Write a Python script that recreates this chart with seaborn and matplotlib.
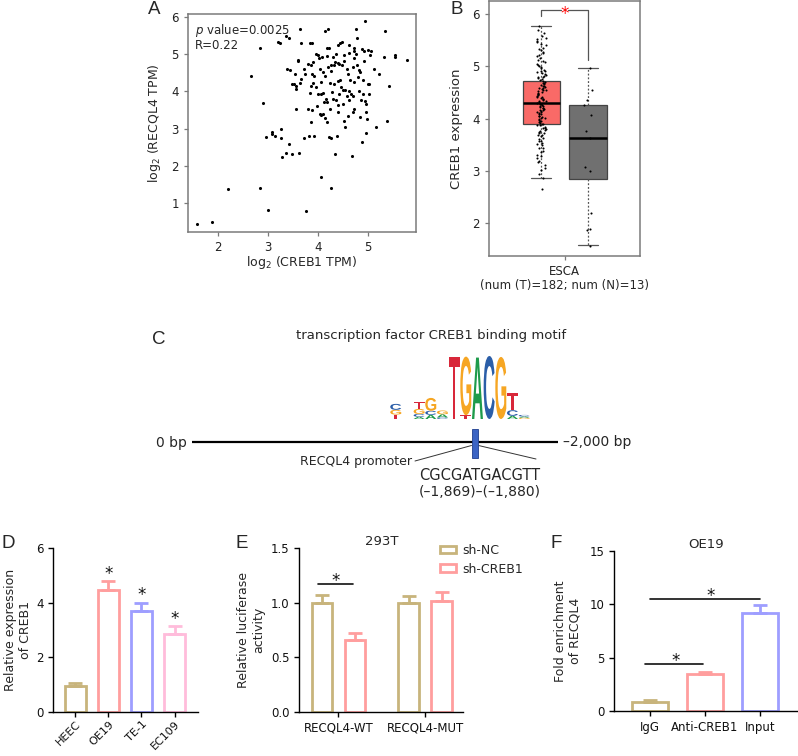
import numpy as np
import pandas as pd
import matplotlib
matplotlib.use("Agg")
import matplotlib.pyplot as plt
import seaborn as sns
from matplotlib.patches import PathPatch, Rectangle
from matplotlib.textpath import TextPath
from matplotlib.font_manager import FontProperties
from matplotlib.transforms import Affine2D

# ---------------- A: RECQL4 vs CREB1 (log2 TPM) ----------------
creb1_log2 = [4.93, 3.65, 4.14, 4.20, 4.76, 5.34, 3.37, 3.42, 2.84, 3.20, 3.25, 3.67, 3.83, 3.88,
              4.78, 4.44, 4.47, 4.39, 4.17, 4.22, 4.62, 4.72, 4.87, 4.92, 5.00, 5.05, 5.04, 5.32,
              5.53, 5.54, 5.77, 3.95, 3.99, 4.08, 4.01, 3.89, 3.79, 3.86, 3.61, 3.61, 3.39, 3.44,
              3.55, 3.74, 3.66, 3.64, 3.48, 3.53, 3.56, 3.56, 3.88, 3.91, 3.89, 3.86, 3.84, 3.99,
              4.05, 4.10, 4.06, 4.14, 4.19, 4.26, 4.31, 4.33, 4.39, 4.42, 4.36, 4.29, 4.52, 4.62,
              4.71, 4.76, 4.48, 4.51, 4.59, 4.69, 4.82, 4.84, 4.72, 4.92, 5.12, 5.21, 4.99, 5.02,
              4.72, 4.40, 4.44, 4.24, 4.32, 4.50, 4.54, 4.42, 4.61, 4.66, 4.69, 4.82, 4.89, 4.86,
              4.94, 4.95, 4.61, 4.29, 4.36, 4.16, 4.18, 4.12, 4.39, 4.49, 4.72, 5.42, 5.01, 2.66,
              2.91, 3.56, 3.79, 3.88, 4.03, 4.06, 4.09, 4.14, 4.39, 4.69, 4.95, 4.97, 4.52,
              1.58, 1.89, 2.20, 2.85, 3.00, 3.75, 4.06, 4.26, 2.96, 3.08, 3.09, 3.15, 3.26, 3.27,
              3.42, 3.29, 3.36, 3.48, 3.63, 3.71, 3.81, 3.91, 3.86, 4.17, 4.21, 4.26, 4.38, 4.34,
              4.54, 4.68, 4.88, 4.96, 5.15, 5.37,
              4.03, 4.10, 4.25, 4.58, 4.64, 4.80, 3.95, 4.28, 4.57, 4.78, 4.18, 3.72, 4.46, 4.90,
              3.97, 4.24, 4.84, 4.60]
recql4_log2 = [5.89, 5.69, 5.63, 5.69, 5.69, 5.62, 5.51, 5.43, 5.18, 5.33, 5.32, 5.32, 5.32, 5.32,
               5.45, 5.32, 5.34, 5.25, 5.17, 5.16, 5.25, 5.16, 5.14, 5.08, 5.13, 5.08, 4.99, 4.93,
               4.98, 4.92, 4.84, 5.02, 4.99, 4.93, 4.89, 4.80, 4.75, 4.71, 4.84, 4.81, 4.62, 4.57,
               4.48, 4.48, 4.35, 4.23, 4.21, 4.21, 4.15, 4.06, 4.48, 4.41, 4.23, 4.15, 3.96, 3.94,
               3.92, 3.96, 4.26, 4.41, 4.66, 4.71, 4.72, 4.80, 4.78, 4.75, 5.02, 4.93, 4.98, 5.05,
               5.08, 5.02, 4.71, 4.81, 4.48, 4.66, 4.57, 4.53, 4.89, 4.81, 4.62, 4.48, 4.21, 4.21,
               4.26, 4.27, 4.32, 4.24, 4.21, 4.03, 4.05, 3.94, 4.00, 3.94, 3.88, 4.00, 3.94, 3.76,
               3.74, 3.67, 3.76, 3.81, 3.76, 3.79, 3.72, 3.72, 3.63, 3.67, 3.54, 4.15, 3.94, 4.42,
               3.70, 3.54, 3.54, 3.49, 3.40, 3.36, 3.40, 3.29, 3.45, 3.45, 3.45, 3.27, 3.21,
               0.43, 0.47, 1.38, 1.40, 0.81, 0.78, 1.69, 1.41, 2.76, 2.90, 2.86, 2.81, 2.99, 2.74,
               2.59, 2.23, 2.33, 2.31, 2.35, 2.75, 2.81, 2.81, 3.19, 3.17, 2.78, 2.75, 2.81, 2.31,
               3.05, 2.26, 2.65, 2.87, 3.05, 3.21,
               4.60, 4.52, 4.55, 4.60, 4.32, 4.38, 4.12, 3.98, 3.88, 4.72, 4.97, 4.62, 4.12, 4.30,
               3.62, 3.52, 3.30, 3.35]

# ---------------- B: CREB1 expression in ESCA ----------------
box_q1 = [3.90, 2.85]
box_med = [4.30, 3.63]
box_q3 = [4.72, 4.27]
box_lo = [2.86, 1.58]
box_hi = [5.78, 4.97]
box_colors = ["#F96A67", "#707070"]
tumor_expr = [2.65, 2.86, 2.94, 3.02, 3.06, 3.11, 3.17, 3.19, 3.24, 3.28, 3.31, 3.36, 3.38, 3.43,
              3.44, 3.49, 3.52, 3.53, 3.57, 3.58, 3.62, 3.63, 3.66, 3.68, 3.69, 3.72, 3.73, 3.75,
              3.77, 3.78, 3.80, 3.82, 3.83, 3.85, 3.87, 3.88, 3.89, 3.90, 3.92, 3.93, 3.95, 3.96,
              3.98, 3.99, 4.01, 4.02, 4.03, 4.05, 4.06, 4.08, 4.09, 4.10, 4.12, 4.13, 4.14, 4.16,
              4.17, 4.19, 4.20, 4.21, 4.23, 4.24, 4.25, 4.27, 4.28, 4.29, 4.30, 4.31, 4.33, 4.34,
              4.35, 4.37, 4.38, 4.40, 4.41, 4.42, 4.44, 4.45, 4.47, 4.48, 4.49, 4.51, 4.52, 4.54,
              4.55, 4.56, 4.58, 4.59, 4.61, 4.62, 4.63, 4.65, 4.66, 4.68, 4.69, 4.71, 4.72, 4.73,
              4.75, 4.77, 4.79, 4.80, 4.82, 4.84, 4.85, 4.87, 4.89, 4.91, 4.92, 4.94, 4.96, 4.98,
              5.01, 5.03, 5.05, 5.08, 5.11, 5.13, 5.16, 5.19, 5.22, 5.25, 5.27, 5.31, 5.34, 5.36,
              5.40, 5.43, 5.46, 5.49, 5.52, 5.55, 5.59, 5.64, 5.70, 5.78]
normal_expr = [4.97, 4.55, 4.36, 4.26, 4.07, 3.76, 3.63, 3.08, 3.00, 2.20, 1.90, 1.87, 1.57]

# ---------------- C: CREB1 binding motif (bits, bottom to top) ----------------
logo_letters = ["TGC", "", "ACGT", "ACG", "CAG", "T", "TG", "A", "C", "G", "ACT", "GAC"]
logo_bits = [[0.14, 0.15, 0.19], [], [0.07, 0.09, 0.16, 0.21], [0.13, 0.13, 0.41],
             [0.05, 0.10, 0.12], [1.97], [0.12, 1.86], [1.95], [2.0], [1.97],
             [0.10, 0.18, 0.54], [0.04, 0.04, 0.05]]
base_colors = {"A": "#1E9B4B", "C": "#2B5EA8", "G": "#F6A623", "T": "#D8283A"}

# ---------------- D: CREB1 in cell lines ----------------
cell_lines = ["HEEC", "OE19", "TE-1", "EC109"]
creb1_rel = [0.95, 4.47, 3.68, 2.85]
creb1_err = [0.11, 0.30, 0.32, 0.30]
cell_colors = ["#C8B47C", "#FF9E9E", "#9E9EFF", "#FFBCDB"]

# ---------------- E: luciferase ----------------
constructs = ["RECQL4-WT", "RECQL4-MUT"]
sh_groups = ["sh-NC", "sh-CREB1"]
luc_values = [[1.00, 1.00], [0.66, 1.02]]
luc_err = [[0.07, 0.06], [0.06, 0.08]]
sh_colors = ["#C8B47C", "#FF9E9E"]

# ---------------- F: ChIP ----------------
chip_groups = ["IgG", "Anti-CREB1", "Input"]
chip_fold = [0.88, 3.47, 9.15]
chip_err = [0.13, 0.20, 0.75]
chip_colors = ["#C8B47C", "#FF9E9E", "#9E9EFF"]

sns.set_theme(style="ticks")
plt.rcParams["font.family"] = ["DejaVu Sans"]
plt.rcParams["mathtext.default"] = "regular"

W, H = 798, 756
fig = plt.figure(figsize=(W / 100, H / 100), dpi=100)


def rect(x0, y0, x1, y1):
    return [x0 / W, 1 - y1 / H, (x1 - x0) / W, (y1 - y0) / H]


# background axes for the diagram and panel letters (pixel coordinates)
axC = fig.add_axes([0, 0, 1, 1], zorder=-1)
axC.set_xlim(0, W)
axC.set_ylim(H, 0)
axC.axis("off")

# ---- A
axA = fig.add_axes(rect(188, 14, 416, 232))
sns.scatterplot(x=creb1_log2, y=recql4_log2, s=5, color="black", linewidth=0, ax=axA)
axA.set_xlim(1.41, 5.95)
axA.set_ylim(0.21, 6.09)
axA.set_xticks([2, 3, 4, 5])
axA.set_yticks([1, 2, 3, 4, 5, 6])
axA.set_xlabel("log$_2$ (CREB1 TPM)", fontsize=9)
axA.set_ylabel("log$_2$ (RECQL4 TPM)", fontsize=9)
axA.xaxis.set_label_coords(0.5, -0.1)
axA.yaxis.set_label_coords(-0.11, 0.5)
axA.text(0.03, 0.965, "$\\it{p}$ value=0.0025", transform=axA.transAxes, fontsize=8.5, va="top")
axA.text(0.03, 0.885, "R=0.22", transform=axA.transAxes, fontsize=8.5, va="top")

# ---- B
axB = fig.add_axes(rect(488.7, 1, 640, 255.7))
stats = [dict(med=m, q1=a, q3=b, whislo=lo, whishi=hi, fliers=[])
         for m, a, b, lo, hi in zip(box_med, box_q1, box_q3, box_lo, box_hi)]
bp = axB.bxp(stats, positions=[0, 1], widths=0.8, patch_artist=True, showfliers=False,
             capwidths=0.42,
             boxprops=dict(edgecolor="#444444", linewidth=0.9),
             medianprops=dict(color="black", linewidth=1.8),
             whiskerprops=dict(color="#555555", linewidth=0.9, linestyle=(0, (1.5, 1.5))),
             capprops=dict(color="#555555", linewidth=0.9))
for patch, c in zip(bp["boxes"], box_colors):
    patch.set_facecolor(c)
strip_df = pd.DataFrame({"pos": [0] * len(tumor_expr) + [1] * len(normal_expr),
                         "expr": tumor_expr + normal_expr})
np.random.seed(3)
sns.stripplot(data=strip_df, x="pos", y="expr", native_scale=True, jitter=0.1, size=1.5,
              color="black", ax=axB, zorder=4)
axB.set_xlim(-1.126, 2.113)
axB.set_ylim(1.38, 6.25)
axB.set_yticks([2, 3, 4, 5, 6])
axB.set_xticks([0.5])
axB.set_xticklabels(["ESCA"], fontsize=9.5)
axB.set_xlabel("(num (T)=182; num (N)=13)", fontsize=8.5, labelpad=1)
axB.set_ylabel("CREB1 expression", fontsize=9.5)
axB.yaxis.set_label_coords(-0.17, 0.5)
br_y = 6.08
axB.plot([0, 0, 0.42], [5.96, br_y, br_y], color="#555555", lw=0.9)
axB.plot([0.58, 1, 1], [br_y, br_y, 5.12], color="#555555", lw=0.9)
axB.annotate("*", (0.5, br_y), xytext=(0, -6.5), textcoords="offset points",
             ha="center", va="baseline", color="red", fontsize=12)

for ax in (axA, axB):
    for sp in ax.spines.values():
        sp.set_visible(True)
        sp.set_color("#7a7a7a")
        sp.set_linewidth(1.1)
    ax.tick_params(color="#7a7a7a", labelcolor="#222222", labelsize=8.5, length=3, width=0.9)

# ---- C diagram
axC.text(431, 335, "transcription factor CREB1 binding motif", ha="center", va="center",
         fontsize=9.5)
axC.plot([192, 558], [442, 442], color="black", lw=1.6, solid_capstyle="butt")
axC.add_patch(Rectangle((472, 429), 6, 29, facecolor="#3B64C4", edgecolor="#1F3F8F",
                        lw=0.6, zorder=3))
axC.text(187, 443, "0 bp", ha="right", va="center", fontsize=10)
axC.text(563, 442, "\u20132,000 bp", ha="left", va="center", fontsize=10)
axC.plot([415, 471.5], [461, 445.5], color="#333333", lw=0.7)
axC.plot([478.5, 536], [445.5, 459], color="#333333", lw=0.7)
axC.text(412, 462, "RECQL4 promoter", ha="right", va="center", fontsize=9)
axC.text(480, 476, "CGCGATGACGTT", ha="center", va="center", fontsize=10.5)
axC.text(480, 492, "(\u20131,869)\u2013(\u20131,880)", ha="center", va="center", fontsize=10)

axL = fig.add_axes(rect(389.9, 356, 530, 419))
axL.set_xlim(0, len(logo_letters))
axL.set_ylim(0, 2)
axL.axis("off")
fp = FontProperties(family="Liberation Sans", weight="bold")
for i, (letters, bits) in enumerate(zip(logo_letters, logo_bits)):
    y = 0.0
    for ch, h in zip(letters, bits):
        path = TextPath((0, 0), ch, size=1, prop=fp)
        ext = path.get_extents()
        tr = (Affine2D().translate(-ext.x0, -ext.y0)
              .scale(0.94 / ext.width, h / ext.height).translate(i + 0.03, y))
        axL.add_patch(PathPatch(tr.transform_path(path), facecolor=base_colors[ch],
                                edgecolor="none"))
        y += h

# panel letters
for lab, (x, y) in zip("ABCDEF", [(154.5, 9), (456.7, 10), (159, 340),
                                   (8, 544), (242, 544), (556, 543)]):
    axC.text(x, y, lab, ha="center", va="center", fontsize=13.5, family="Liberation Sans")


def style_bar_axes(ax):
    sns.despine(ax=ax)
    for sp in ("left", "bottom"):
        ax.spines[sp].set_color("black")
        ax.spines[sp].set_linewidth(1.0)
    ax.tick_params(color="black", labelcolor="#111111", labelsize=8.5, length=3.5, width=1.0)


def add_star(ax, x, y, dy=0):
    ax.annotate("*", (x, y), xytext=(0, dy), textcoords="offset points",
                ha="center", va="baseline", fontsize=12, color="#111111")


# ---- D
axD = fig.add_axes(rect(53.3, 547.7, 198.3, 712.3))
sns.barplot(x=cell_lines, y=creb1_rel, hue=cell_lines, palette=cell_colors, fill=False,
            linewidth=2.0, width=0.64, errorbar=None, legend=False, ax=axD)
for i, (v, e, c) in enumerate(zip(creb1_rel, creb1_err, cell_colors)):
    axD.errorbar(i, v, yerr=[[0], [e]], fmt="none", ecolor=c, elinewidth=2.0,
                 capsize=5, capthick=2.0)
    if i > 0:
        add_star(axD, i, v + e, dy=1.5)
axD.set_xlim(-0.67, 3.72)
axD.set_ylim(0, 6)
axD.set_yticks([0, 2, 4, 6])
axD.set_xticks(range(len(cell_lines)))
axD.set_ylabel("Relative expression\nof CREB1", fontsize=9)
axD.yaxis.set_label_coords(-0.15, 0.5)
style_bar_axes(axD)
axD.set_xticklabels(cell_lines, rotation=45, ha="right", rotation_mode="anchor", fontsize=8)
axD.tick_params(axis="x", pad=1.5)

# ---- E
axE = fig.add_axes(rect(299.3, 548.3, 463.3, 711.7))
e_df = pd.DataFrame({"construct": constructs * 2,
                     "group": [sh_groups[0]] * 2 + [sh_groups[1]] * 2,
                     "value": luc_values[0] + luc_values[1]})
sns.barplot(data=e_df, x="construct", y="value", hue="group", palette=sh_colors, fill=False,
            linewidth=2.0, width=0.76, gap=0.38, errorbar=None, legend=False, ax=axE)
for cont, errs, c in zip(axE.containers, luc_err, sh_colors):
    for bar, e in zip(cont, errs):
        xc = bar.get_x() + bar.get_width() / 2
        axE.errorbar(xc, bar.get_height(), yerr=[[0], [e]], fmt="none", ecolor=c,
                     elinewidth=2.0, capsize=5, capthick=2.0)
axE.plot([-0.23, 0.17], [1.17, 1.17], color="#111111", lw=1.2)
add_star(axE, -0.03, 1.17, dy=-1.5)
axE.set_xlim(-0.45, 1.44)
axE.set_ylim(0, 1.5)
axE.set_yticks([0, 0.5, 1.0, 1.5])
axE.set_yticklabels(["0.0", "0.5", "1.0", "1.5"])
axE.set_xlabel("")
axE.set_ylabel("Relative luciferase\nactivity", fontsize=9)
axE.yaxis.set_label_coords(-0.21, 0.5)
axE.set_title("293T", fontsize=9.5, pad=1)
handles = [Rectangle((0, 0), 1, 1, fill=False, edgecolor=c, lw=2.0) for c in sh_colors]
axE.legend(handles, sh_groups, loc="upper left", bbox_to_anchor=(440 / W, 1 - 544 / H),
           bbox_transform=fig.transFigure, frameon=False, fontsize=9, handlelength=1.3,
           handleheight=0.55, labelspacing=0.45, borderaxespad=0, borderpad=0,
           handletextpad=0.5)
style_bar_axes(axE)

# ---- F
axF = fig.add_axes(rect(614, 550.7, 797.3, 711))
sns.barplot(x=chip_groups, y=chip_fold, hue=chip_groups, palette=chip_colors, fill=False,
            linewidth=2.0, width=0.64, errorbar=None, legend=False, ax=axF)
for i, (v, e, c) in enumerate(zip(chip_fold, chip_err, chip_colors)):
    axF.errorbar(i, v, yerr=[[0], [e]], fmt="none", ecolor=c, elinewidth=2.0,
                 capsize=5, capthick=2.0)
axF.plot([-0.1, 0.96], [4.37, 4.37], color="#111111", lw=1.2)
add_star(axF, 0.47, 4.37, dy=-1.5)
axF.plot([0, 2], [10.5, 10.5], color="#111111", lw=1.2)
add_star(axF, 1.1, 10.5, dy=-1.5)
axF.set_xlim(-0.655, 2.68)
axF.set_ylim(0, 15)
axF.set_yticks([0, 5, 10, 15])
axF.set_ylabel("Fold enrichment\nof RECQL4", fontsize=9)
axF.yaxis.set_label_coords(-0.175, 0.5)
axF.set_title("OE19", fontsize=9.5, pad=2)
style_bar_axes(axF)

fig.savefig("out.png", dpi=100)
